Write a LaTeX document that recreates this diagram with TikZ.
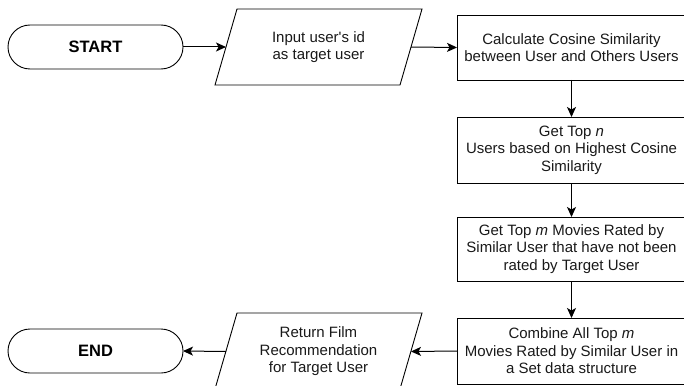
\documentclass[tikz,border=0pt]{standalone}
\usepackage{fontspec}
\setmainfont{Liberation Sans}[Ligatures=TeXOff]
\usetikzlibrary{arrows.meta,shapes.misc}
\begin{document}
\begin{tikzpicture}[x=1pt,y=-1pt,
  every node/.style={inner sep=0pt,outer sep=0pt},
  line/.style={line width=0.9pt,draw=black},
  term/.style={line, rounded rectangle, minimum width=175pt, minimum height=44pt,
    font=\fontsize{16.5}{19}\selectfont\bfseries},
  procbox/.style={line, rectangle, minimum width=229pt, align=center,
    font=\fontsize{15}{17.6}\selectfont, text=black!90},
  iobox/.style={line},
  lbl/.style={align=center, font=\fontsize{15}{17.6}\selectfont, text=black!90},
  flow/.style={line width=1pt, -{Stealth[length=10pt,width=9pt,inset=2.5pt]}}
]
\useasboundingbox (0,0) rectangle (684,385);

% terminals
\node[term] (start) at (95.5,47) {START};
\node[term] (end) at (95.5,351) {END};

% input parallelogram
\coordinate (p1tl) at (237,9);
\coordinate (p1tr) at (422,9);
\coordinate (p1br) at (400,85);
\coordinate (p1bl) at (215,85);
\draw[iobox] (p1tl) -- (p1tr) -- (p1br) -- (p1bl) -- cycle;
\node[lbl] (in) at (318.5,47) {Input user's id\\as target user};
\coordinate (p1l) at (226,47);
\coordinate (p1r) at (411,47);

% output parallelogram
\coordinate (p2tl) at (237,313);
\coordinate (p2tr) at (422,313);
\coordinate (p2br) at (400,389);
\coordinate (p2bl) at (215,389);
\draw[iobox] (p2tl) -- (p2tr) -- (p2br) -- (p2bl) -- cycle;
\node[lbl] (out) at (318.5,351.5) {Return Film\\Recommendation\\for Target User};
\coordinate (p2l) at (226,351.5);
\coordinate (p2r) at (411,351.5);

% process boxes
\node[procbox, minimum height=65pt] (cos) at (571.5,47.5)
  {Calculate Cosine Similarity\\between User and Others Users};
\node[procbox, minimum height=66pt] (topn) at (571.5,150)
  {Get Top \textit{n}\\Users based on Highest Cosine\\Similarity};
\node[procbox, minimum height=64pt] (topm) at (571.5,249)
  {Get Top \textit{m} Movies Rated by\\Similar User that have not been\\rated by Target User};
\node[procbox, minimum height=66pt] (comb) at (571.5,351)
  {Combine All Top \textit{m}\\Movies Rated by Similar User in\\a Set data structure};

% connectors
\draw[flow] (start.east) -- (p1l);
\draw[flow] (p1r) -- (cos.west);
\draw[flow] (cos.south) -- (topn.north);
\draw[flow] (topn.south) -- (topm.north);
\draw[flow] (topm.south) -- (comb.north);
\draw[flow] (comb.west) -- (p2r);
\draw[flow] (p2l) -- (end.east);
\end{tikzpicture}
\end{document}
